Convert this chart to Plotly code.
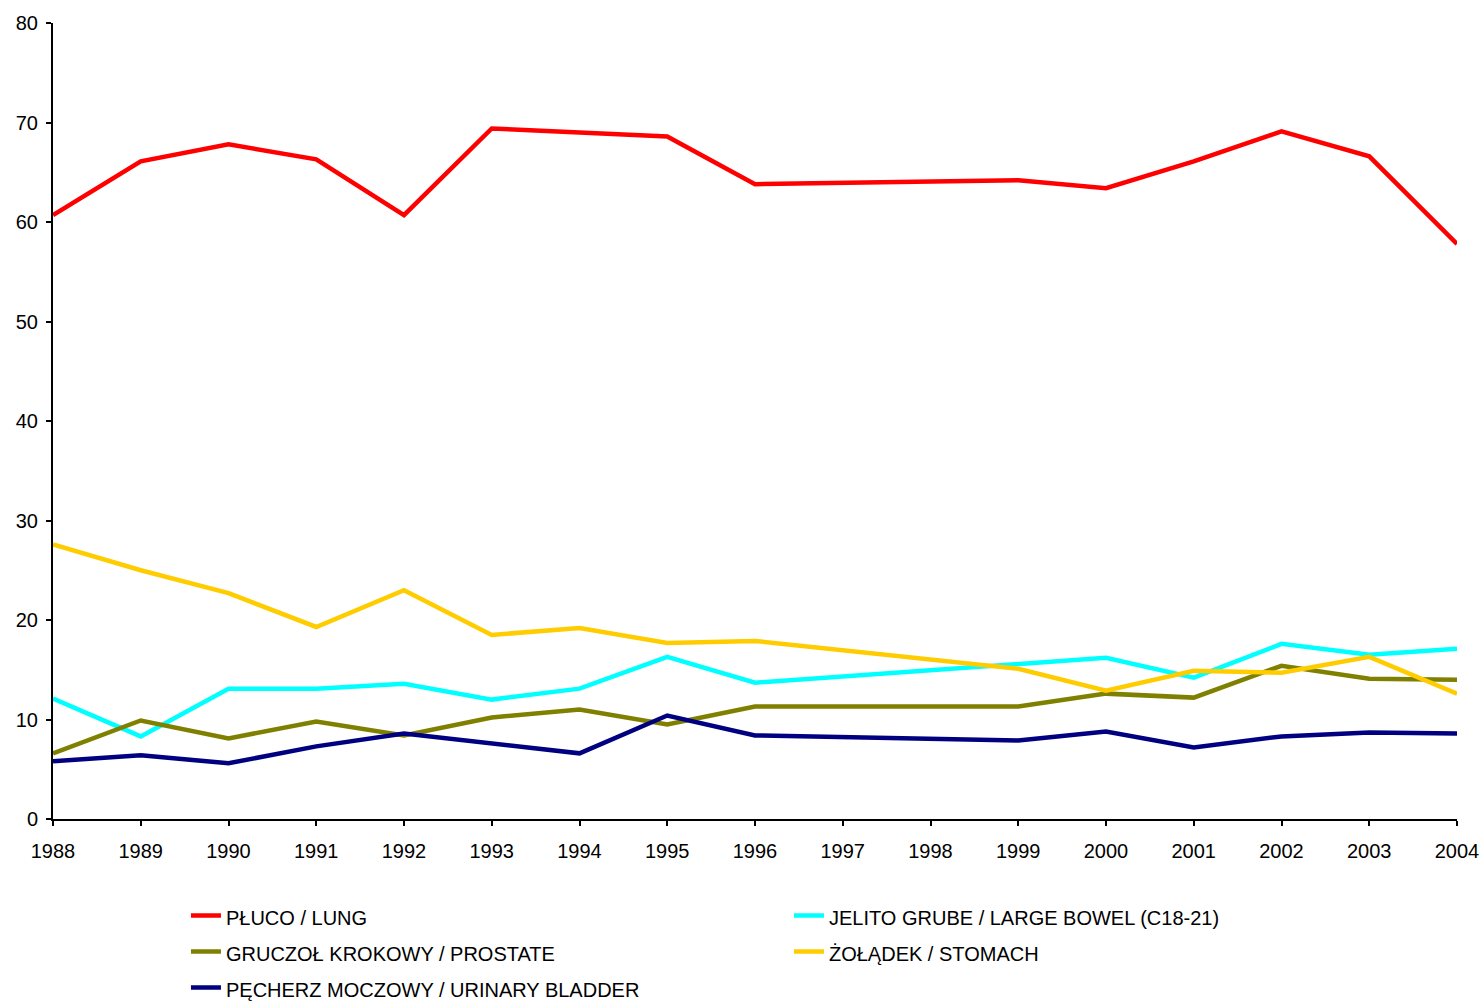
import plotly.graph_objects as go

years = [1988, 1989, 1990, 1991, 1992, 1993, 1994, 1995, 1996, 1999, 2000, 2001, 2002, 2003, 2004]

pluco = [60.7, 66.1, 67.8, 66.3, 60.7, 69.4, 69.0, 68.6, 63.8, 64.2, 63.4, 66.1, 69.1, 66.6, 57.8]
jelito = [12.1, 8.3, 13.1, 13.1, 13.6, 12.0, 13.1, 16.3, 13.7, 15.5, 16.2, 14.2, 17.6, 16.5, 17.1]
gruczol = [6.6, 9.9, 8.1, 9.8, 8.4, 10.2, 11.0, 9.5, 11.3, 11.3, 12.6, 12.2, 15.4, 14.1, 14.0]
zoladek = [27.6, 25.0, 22.7, 19.3, 23.0, 18.5, 19.2, 17.7, 17.9, 15.1, 12.9, 14.9, 14.7, 16.3, 12.6]
pecherz = [5.8, 6.4, 5.6, 7.3, 8.6, 7.6, 6.6, 10.4, 8.4, 7.9, 8.8, 7.2, 8.3, 8.7, 8.6]

names = ["PŁUCO / LUNG", "JELITO GRUBE / LARGE BOWEL (C18-21)", "GRUCZOŁ KROKOWY / PROSTATE",
         "ŻOŁĄDEK / STOMACH", "PĘCHERZ MOCZOWY / URINARY BLADDER"]
series = [pluco, jelito, gruczol, zoladek, pecherz]
colors = ["#FF0000", "#00FFFF", "#808000", "#FFCC00", "#000080"]

tick_years = list(range(1988, 2005))
y_ticks = [0, 10, 20, 30, 40, 50, 60, 70, 80]

FAM = "Liberation Sans, Arial, sans-serif"

fig = go.Figure()
for name, vals, col in zip(names, series, colors):
    fig.add_trace(go.Scatter(
        x=years, y=vals, mode="lines",
        name='<span style="font-size:20px">' + name + '</span>',
        line=dict(color=col, width=4.5)))

fig.update_layout(
    width=1483, height=1003,
    margin=dict(l=53, r=26, t=23, b=184, autoexpand=False),
    paper_bgcolor="white", plot_bgcolor="white",
    font=dict(family=FAM, size=20, color="black"),
    showlegend=True,
    legend=dict(orientation="h", x=0.0947, xanchor="left", y=-0.0922, yanchor="top",
                entrywidth=558, entrywidthmode="pixels",
                font=dict(family=FAM, size=25.4, color="black"),
                traceorder="normal", bgcolor="rgba(0,0,0,0)"),
    xaxis=dict(range=[1988, 2004], tickmode="array", tickvals=tick_years,
               ticktext=[str(t) for t in tick_years], automargin=False,
               showgrid=False, zeroline=False, showline=True, linecolor="black", linewidth=2,
               ticks="outside", ticklen=5, tickwidth=1.5, tickcolor="black",
               ticklabelstandoff=8),
    yaxis=dict(range=[0, 80], tickmode="array", tickvals=y_ticks, automargin=False,
               showgrid=False, zeroline=False, showline=True, linecolor="black", linewidth=2,
               ticks="outside", ticklen=5, tickwidth=1.5, tickcolor="black",
               ticklabelstandoff=4),
)

fig.write_html("out.html", config={"displayModeBar": False},
               post_script="document.body.style.margin='0';document.body.style.overflow='hidden';")
